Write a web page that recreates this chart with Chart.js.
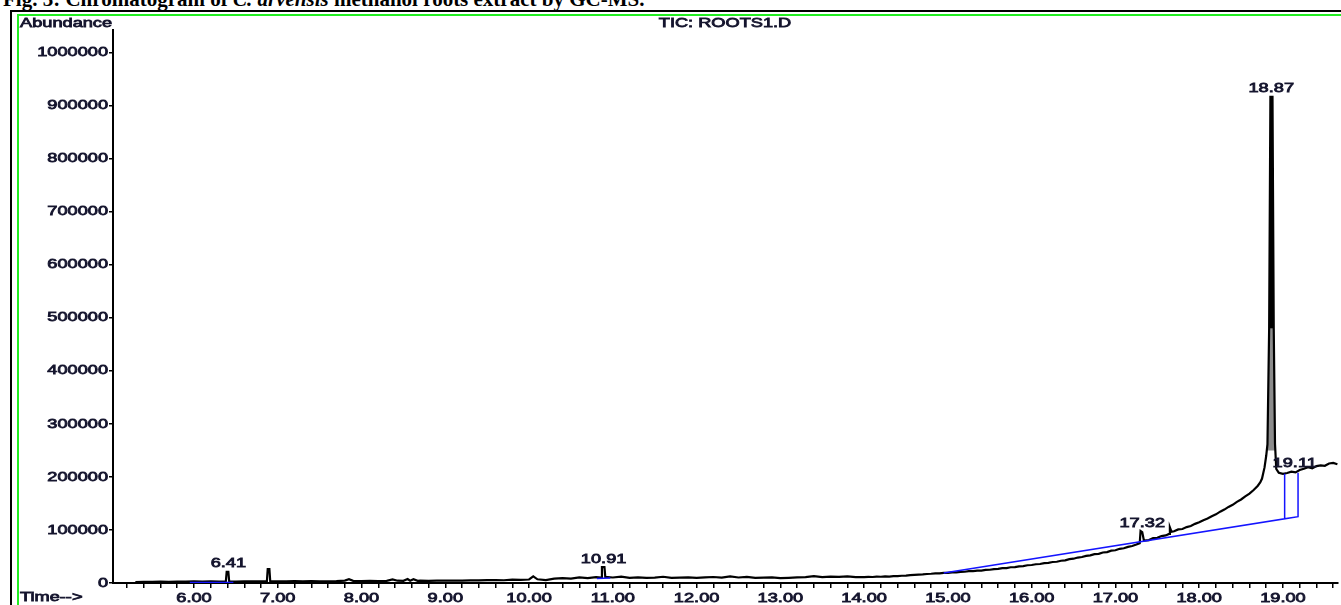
<!DOCTYPE html>
<html>
<head>
<meta charset="utf-8">
<script src="https://cdn.jsdelivr.net/npm/chart.js@4.4.1/dist/chart.umd.min.js"></script>
<style>
  html, body { margin: 0; padding: 0; background: #ffffff; }
  #page { position: relative; width: 1341px; height: 605px; overflow: hidden; background: #ffffff; }
  #caption {
    position: absolute; left: 3px; top: -11px; white-space: nowrap;
    font: bold 21px/21px "Liberation Serif", "Times New Roman", serif; color: #000;
  }
  #frameOuter { position: absolute; left: 10px; top: 10px; width: 1400px; height: 700px; border-left: 2px solid #000; border-top: 2px solid #000; }
  #frameInner { position: absolute; left: 17px; top: 14px; width: 1400px; height: 700px; border-left: 2px solid #22ee22; border-top: 2px solid #22ee22; }
  #chartBox { position: absolute; left: 0; top: 0; width: 1341px; height: 605px; }
</style>
</head>
<body>
<div id="page">
  <div id="caption">Fig. 3: Chromatogram of <i>C. arvensis</i> methanol roots extract by GC-MS.</div>
  <div id="frameOuter"></div>
  <div id="frameInner"></div>
  <div id="chartBox"><canvas id="tic" width="1341" height="605"></canvas></div>
</div>
<script>
// Total ion chromatogram, retention time (min) vs abundance
const retentionTimes = [
  5.30, 5.40, 5.50, 5.60, 5.70, 5.80, 5.90, 6.00, 6.10, 6.20, 6.30, 6.38, 6.39, 6.41, 6.42,
  6.50, 6.60, 6.70, 6.80, 6.87, 6.88, 6.90, 6.91, 7.00, 7.10, 7.20, 7.30, 7.40, 7.50, 7.60,
  7.70, 7.80, 7.85, 7.90, 8.00, 8.10, 8.20, 8.30, 8.37, 8.43, 8.50, 8.55, 8.58, 8.62, 8.67,
  8.70, 8.80, 8.90, 9.00, 9.10, 9.20, 9.30, 9.40, 9.50, 9.60, 9.70, 9.80, 9.90, 10.00, 10.05,
  10.10, 10.20, 10.30, 10.40, 10.50, 10.60, 10.70, 10.80, 10.86, 10.87, 10.90, 10.91, 11.00, 11.10, 11.20,
  11.30, 11.40, 11.50, 11.60, 11.70, 11.80, 11.90, 12.00, 12.10, 12.20, 12.30, 12.40, 12.50, 12.60, 12.70,
  12.80, 12.90, 13.00, 13.10, 13.20, 13.30, 13.40, 13.50, 13.60, 13.70, 13.80, 13.90,
  14.00, 14.05, 14.10, 14.15, 14.20, 14.25, 14.30, 14.35, 14.40, 14.45, 14.50, 14.55, 14.60, 14.65, 14.70,
  14.75, 14.80, 14.85, 14.90, 14.95, 15.00, 15.05, 15.10, 15.15, 15.20, 15.25, 15.30, 15.35, 15.40, 15.45,
  15.50, 15.55, 15.60, 15.65, 15.70, 15.75, 15.80, 15.85, 15.90, 15.95, 16.00, 16.05, 16.10, 16.15, 16.20,
  16.25, 16.30, 16.35, 16.40, 16.45, 16.50, 16.55, 16.60, 16.65, 16.70, 16.75, 16.80, 16.85, 16.90, 16.95,
  17.00, 17.05, 17.10, 17.15, 17.20, 17.25, 17.29, 17.30, 17.32, 17.34, 17.40, 17.45, 17.50, 17.55, 17.60,
  17.64, 17.65, 17.67, 17.70, 17.75, 17.80, 17.85, 17.90, 17.95, 18.00, 18.05, 18.10, 18.15, 18.20, 18.25,
  18.30, 18.35, 18.40, 18.45, 18.50, 18.55, 18.60, 18.65, 18.70, 18.73, 18.75, 18.78, 18.80, 18.815, 18.835,
  18.85, 18.875, 18.89, 18.905, 18.92, 18.95, 19.00, 19.05, 19.10, 19.15, 19.20, 19.25, 19.30, 19.35, 19.40,
  19.45, 19.50, 19.55, 19.60, 19.65
];
const abundance = [
  1500, 2200, 2000, 2600, 2300, 2800, 2500, 3000, 2700, 2900, 2600, 2700, 21000, 21000, 2900,
  2800, 3100, 2900, 3200, 3000, 26000, 26000, 3300, 3100, 2900, 3400, 3000, 3500, 3100, 3300,
  3600, 4500, 7000, 4000, 3600, 3900, 3700, 4100, 6800, 4300, 4000, 7500, 4200, 7200, 4000,
  4400, 4100, 4600, 4300, 4700, 4400, 5000, 4800, 5300, 5600, 5200, 6200, 5800, 6600, 12500,
  7000, 5500, 8200, 9200, 8400, 10500, 9300, 11200, 10000, 30000, 30000, 11500, 10400, 12000, 9800,
  10600, 9600, 10200, 11800, 9500, 10200, 10700, 9800, 10600, 11300, 10000, 12300, 10400, 11600, 9500,
  10100, 10600, 9200, 9800, 10700, 11200, 12800, 11000, 12100, 11400, 12600, 11000,
  11200, 11600, 11300, 12000, 11800, 12400, 12200, 12900, 13100, 13700, 14000, 14900, 15300, 15800, 16100,
  17000, 17400, 18200, 18300, 19200, 19000, 20100, 19900, 21000, 21200, 22300, 22400, 23500, 23400, 24800,
  25000, 26300, 26800, 28000, 28200, 29700, 30000, 31500, 31900, 33500, 34000, 35400, 35800, 37500, 38000,
  39600, 40100, 42000, 42800, 44900, 45800, 48000, 49000, 51200, 52100, 54300, 55000, 57600, 58300, 61000,
  61800, 64500, 65600, 68200, 69800, 72500, 75000, 98000, 96000, 80000, 81000, 84500, 85200, 88500, 89800,
  92500, 105000, 96500, 97500, 101000, 101800, 105500, 107500, 111500, 114500, 118500, 121500, 126000, 129500, 134500,
  138500, 143500, 147500, 153000, 157500, 163500, 168500, 175500, 183500, 190000, 197000, 218000, 240000, 262000, 480000,
  917000, 917000, 480000, 262000, 215000, 208000, 206000, 207500, 210000, 208500, 213000, 215500, 218500, 216500, 220500,
  222000, 221000, 225500, 226500, 224000
];

// Main peak: lower flanks shaded grey, narrow upper part filled black
const shadedTimes = [18.815, 18.835, 18.89, 18.905];
const shadedValues = [262000, 480000, 480000, 262000];
const shadedFloor = 250000;
const apexTimes = [18.835, 18.85, 18.875, 18.89];
const apexValues = [480000, 917000, 917000, 480000];
const apexFloor = 480000;

// Integration baselines (blue)
const baseATimes = [5.95, 6.47];
const baseAValues = [1000, 1000];
const baseBTimes = [10.81, 10.97];
const baseBValues = [8500, 9500];
const baseCTimes = [14.95, 19.02, 19.02, 19.02, 19.18, 19.18];
const baseCValues = [19000, 121000, 206000, 121000, 125000, 208000];

// Retention-time annotations above the peaks
const peakLabels = ['6.41', '10.91', '17.32', '18.87', '19.11'];
const peakLabelTimes = [6.41, 10.89, 17.32, 18.86, 19.14];
const peakLabelValues = [21000, 30000, 98000, 917000, 210000];

// Axis ticks
const yTickValues = [0, 100000, 200000, 300000, 400000, 500000, 600000, 700000, 800000, 900000, 1000000];
const xLabelValues = [6, 7, 8, 9, 10, 11, 12, 13, 14, 15, 16, 17, 18, 19];
const X_MIN = 5.033, X_MAX = 19.657;
const Y_MIN = 0, Y_MAX = 1043000;
const X_STEP = 0.2;

const TEXT_COLOR = '#15152e';
const TEXT_FONT = '13px "Liberation Sans", Arial, sans-serif';
const STRETCH = 1.4;

const pairs = (xs, ys) => xs.map((x, i) => ({ x: x, y: ys[i] }));

function wideText(ctx, text, x, y, align) {
  ctx.save();
  ctx.font = TEXT_FONT;
  ctx.fillStyle = TEXT_COLOR;
  ctx.strokeStyle = TEXT_COLOR;
  ctx.lineWidth = 0.8;
  ctx.textBaseline = 'middle';
  const w = ctx.measureText(text).width * STRETCH;
  let left = x;
  if (align === 'center') left = x - w / 2;
  else if (align === 'right') left = x - w;
  ctx.translate(left, y);
  ctx.scale(STRETCH, 1);
  ctx.textAlign = 'left';
  ctx.fillText(text, 0, 0);
  ctx.strokeText(text, 0, 0);
  ctx.restore();
}

const labelsPlugin = {
  id: 'ticLabels',
  afterDraw(chart) {
    const ctx = chart.ctx;
    const xs = chart.scales.x, ys = chart.scales.y;
    yTickValues.forEach(v => {
      wideText(ctx, String(v), 108, ys.getPixelForValue(v), 'right');
    });
    xLabelValues.forEach(v => {
      wideText(ctx, v.toFixed(2), xs.getPixelForValue(v), 598, 'center');
    });
    wideText(ctx, 'Abundance', 20, 23, 'left');
    wideText(ctx, 'Time-->', 20, 597, 'left');
    wideText(ctx, 'TIC: ROOTS1.D', 725, 23, 'center');
    peakLabels.forEach((txt, i) => {
      const px = xs.getPixelForValue(peakLabelTimes[i]);
      const py = ys.getPixelForValue(peakLabelValues[i]) - 8;
      wideText(ctx, txt, px, py, 'center');
    });
  }
};

const blue = '#1414ff';

new Chart(document.getElementById('tic'), {
  type: 'line',
  data: {
    datasets: [
      { data: pairs(baseATimes, baseAValues), borderColor: blue, borderWidth: 1.5 },
      { data: pairs(baseBTimes, baseBValues), borderColor: blue, borderWidth: 1.5 },
      { data: pairs(baseCTimes, baseCValues), borderColor: blue, borderWidth: 1.5 },
      { data: pairs(retentionTimes, abundance), borderColor: '#000000', borderWidth: 2.2 },
      { data: pairs(apexTimes, apexValues), borderColor: 'rgba(0,0,0,0)', borderWidth: 0,
        backgroundColor: '#000000', fill: { value: apexFloor } },
      { data: pairs(shadedTimes, shadedValues), borderColor: 'rgba(0,0,0,0)', borderWidth: 0,
        backgroundColor: '#8c8c8c', fill: { value: shadedFloor } }
    ]
  },
  options: {
    responsive: false,
    animation: false,
    events: [],
    elements: { point: { radius: 0 }, line: { tension: 0, borderJoinStyle: 'miter' } },
    layout: { padding: { left: 0, right: 3, top: 30, bottom: 0 } },
    plugins: { legend: { display: false }, tooltip: { enabled: false } },
    scales: {
      x: {
        type: 'linear', min: X_MIN, max: X_MAX,
        afterFit(scale) { scale.height = 22; },
        afterBuildTicks(scale) {
          const ticks = [];
          for (let k = Math.ceil(X_MIN / X_STEP); k * X_STEP <= X_MAX; k++) {
            ticks.push({ value: Math.round(k * X_STEP * 100) / 100 });
          }
          scale.ticks = ticks;
        },
        ticks: { display: false, autoSkip: false },
        grid: { drawOnChartArea: false, drawTicks: true, tickLength: 5, color: '#000', lineWidth: 1.5 },
        border: { display: true, color: '#000', width: 2 }
      },
      y: {
        type: 'linear', min: Y_MIN, max: Y_MAX,
        afterFit(scale) { scale.width = 113; },
        afterBuildTicks(scale) {
          scale.ticks = yTickValues.map(v => ({ value: v }));
        },
        ticks: { display: false, autoSkip: false },
        grid: { drawOnChartArea: false, drawTicks: true, tickLength: 4, color: '#000', lineWidth: 1.5 },
        border: { display: true, color: '#000', width: 2 }
      }
    }
  },
  plugins: [labelsPlugin]
});
</script>
</body>
</html>
